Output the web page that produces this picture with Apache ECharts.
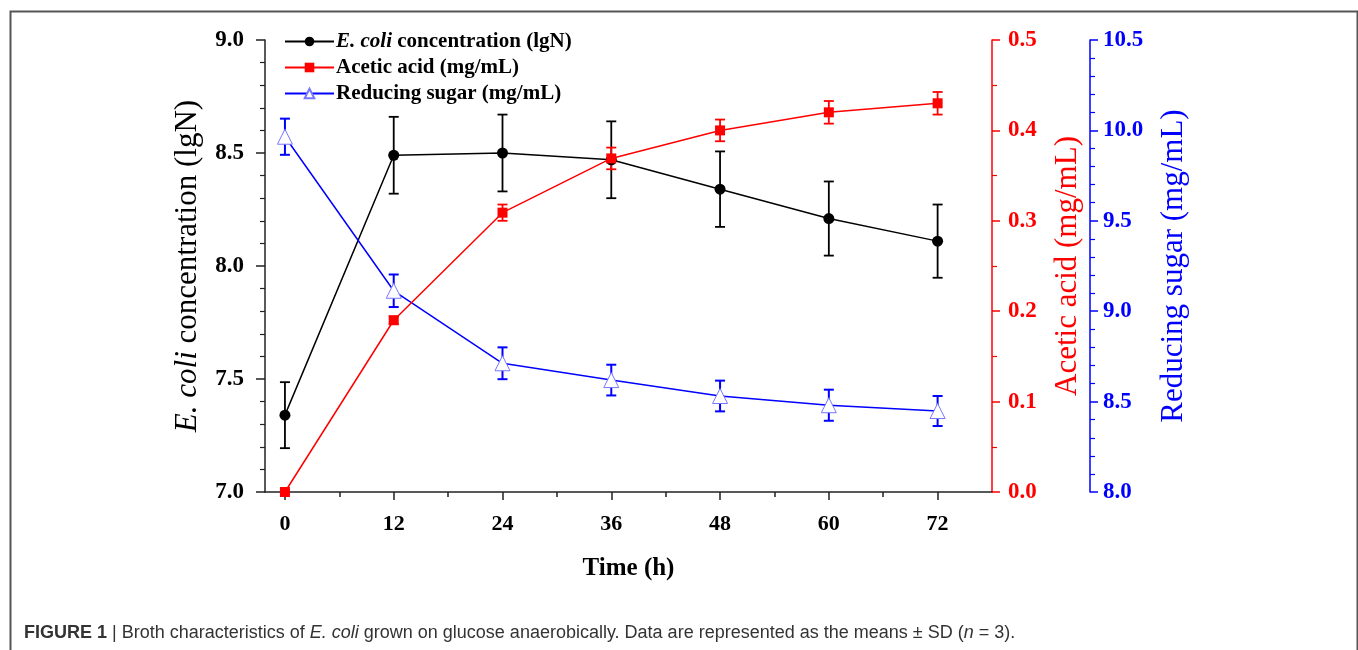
<!DOCTYPE html>
<html>
<head>
<meta charset="utf-8">
<script src="https://cdn.jsdelivr.net/npm/echarts@6/dist/echarts.min.js"></script>
<style>
  html, body { margin: 0; padding: 0; background: #fff; }
  #main { width: 1358px; height: 650px; }
</style>
</head>
<body>
<div id="main"></div>
<script>
// time points (h)
var times = [0, 12, 24, 36, 48, 60, 72];
// E. coli concentration (lgN), mean and SD
var ecoli = [7.34, 8.49, 8.50, 8.47, 8.34, 8.21, 8.11];
var ecoliSD = [0.146, 0.17, 0.17, 0.17, 0.167, 0.164, 0.162];
// acetic acid (mg/mL)
var acetic = [0.0, 0.19, 0.309, 0.369, 0.40, 0.42, 0.43];
var aceticSD = [0, 0.004, 0.009, 0.012, 0.012, 0.0125, 0.0125];
// reducing sugar (mg/mL)
var sugar = [9.965, 9.113, 8.712, 8.619, 8.531, 8.48, 8.448];
var sugarSD = [0.1, 0.09, 0.088, 0.085, 0.085, 0.086, 0.083];

var majorTicks = [0, 12, 24, 36, 48, 60, 72];
var minorTicks = [6, 18, 30, 42, 54, 66];

var serif = "'Liberation Serif', 'Times New Roman', serif";
var sans = "'Liberation Sans', Arial, sans-serif";

function pts(vals) {
    return times.map(function (t, i) { return [t, vals[i]]; });
}
function errs(vals, sd) {
    return times.map(function (t, i) { return [t, vals[i] - sd[i], vals[i] + sd[i]]; });
}
function errRender(color, lw, cap) {
    return function (params, api) {
        var x = api.value(0);
        var lo = api.coord([x, api.value(1)]);
        var hi = api.coord([x, api.value(2)]);
        var st = { stroke: color, lineWidth: lw };
        return {
            type: 'group',
            children: [
                { type: 'line', shape: { x1: lo[0], y1: lo[1], x2: hi[0], y2: hi[1] }, style: st },
                { type: 'line', shape: { x1: hi[0] - cap, y1: hi[1], x2: hi[0] + cap, y2: hi[1] }, style: st },
                { type: 'line', shape: { x1: lo[0] - cap, y1: lo[1], x2: lo[0] + cap, y2: lo[1] }, style: st }
            ]
        };
    };
}
function fmt1(v) { return v.toFixed(1); }

var chart = echarts.init(document.getElementById('main'));
var option = {
    animation: false,
    backgroundColor: '#fff',
    grid: { left: 265, right: 366, top: 40, bottom: 158 },
    legend: {
        orient: 'vertical',
        left: 279,
        top: 26,
        itemWidth: 49,
        itemHeight: 12,
        itemGap: 5,
        data: ['ecoli', 'acetic', 'sugar'],
        formatter: function (name) {
            if (name === 'ecoli') return '{i|E. coli} concentration (lgN)';
            if (name === 'acetic') return 'Acetic acid (mg/mL)';
            return 'Reducing sugar (mg/mL)';
        },
        textStyle: {
            fontFamily: serif, fontSize: 21, fontWeight: 'bold', color: '#000', padding: [0, 0, 0, -3],
            rich: { i: { fontFamily: serif, fontSize: 21, fontStyle: 'italic', color: '#000' } }
        }
    },
    xAxis: [{
        type: 'value', min: -2.2, max: 78,
        name: 'Time (h)', nameLocation: 'middle', nameGap: 64,
        nameTextStyle: { fontFamily: serif, fontSize: 25, fontWeight: 'bold', color: '#000' },
        axisLine: { onZero: false, lineStyle: { color: '#222', width: 1.5 } },
        axisTick: { customValues: majorTicks, length: 8, lineStyle: { color: '#222', width: 1.5 } },
        axisLabel: { customValues: majorTicks, margin: 21, fontFamily: serif, fontSize: 22, fontWeight: 'bold', color: '#000' },
        splitLine: { show: false }
    }, {
        type: 'value', min: -2.2, max: 78, position: 'bottom',
        axisLine: { show: false, onZero: false },
        axisTick: { customValues: minorTicks, length: 5, lineStyle: { color: '#222', width: 1.5 } },
        axisLabel: { show: false },
        splitLine: { show: false }
    }],
    yAxis: [{
        type: 'value', min: 7, max: 9, interval: 0.5, position: 'left',
        name: '{i|E. coli} concentration (lgN)', nameLocation: 'middle', nameGap: 62,
        nameTextStyle: {
            fontFamily: serif, fontSize: 31, color: '#000',
            rich: { i: { fontFamily: serif, fontSize: 31, fontStyle: 'italic', color: '#000' } }
        },
        axisLine: { show: true, onZero: false, lineStyle: { color: '#222', width: 1.5 } },
        axisTick: { length: 9, lineStyle: { color: '#222', width: 1.5 } },
        minorTick: { show: true, splitNumber: 5, length: 5, lineStyle: { color: '#222', width: 1.2 } },
        axisLabel: { formatter: fmt1, margin: 21, fontFamily: serif, fontSize: 23, fontWeight: 'bold', color: '#000' },
        splitLine: { show: false }
    }, {
        type: 'value', min: 0, max: 0.5, interval: 0.1, position: 'right',
        name: 'Acetic acid (mg/mL)', nameLocation: 'middle', nameGap: 60, nameRotate: 90,
        nameTextStyle: { fontFamily: serif, fontSize: 31, color: '#ff0000' },
        axisLine: { show: true, onZero: false, lineStyle: { color: '#ff0000', width: 1.5 } },
        axisTick: { length: 8, lineStyle: { color: '#ff0000', width: 1.5 } },
        minorTick: { show: true, splitNumber: 2, length: 5, lineStyle: { color: '#ff0000', width: 1.2 } },
        axisLabel: { formatter: fmt1, margin: 16, fontFamily: serif, fontSize: 23, fontWeight: 'bold', color: '#ff0000' },
        splitLine: { show: false }
    }, {
        type: 'value', min: 8, max: 10.5, interval: 0.5, position: 'right', offset: 98,
        name: 'Reducing sugar (mg/mL)', nameLocation: 'middle', nameGap: 68, nameRotate: 90,
        nameTextStyle: { fontFamily: serif, fontSize: 31, color: '#0000ff' },
        axisLine: { show: true, onZero: false, lineStyle: { color: '#0000ff', width: 1.5 } },
        axisTick: { length: 8, lineStyle: { color: '#0000ff', width: 1.5 } },
        minorTick: { show: true, splitNumber: 5, length: 5, lineStyle: { color: '#0000ff', width: 1.2 } },
        axisLabel: { formatter: fmt1, margin: 13, fontFamily: serif, fontSize: 23, fontWeight: 'bold', color: '#0000ff' },
        splitLine: { show: false }
    }],
    series: [
        {
            type: 'custom', yAxisIndex: 0, renderItem: errRender('#000', 1.8, 5),
            data: errs(ecoli, ecoliSD), z: 1, silent: true
        },
        {
            type: 'custom', yAxisIndex: 1, renderItem: errRender('#ff0000', 1.8, 5),
            data: errs(acetic, aceticSD), z: 1, silent: true
        },
        {
            type: 'custom', yAxisIndex: 2, renderItem: errRender('#0000ff', 2, 5),
            data: errs(sugar, sugarSD), z: 1, silent: true
        },
        {
            name: 'ecoli', type: 'line', yAxisIndex: 0, data: pts(ecoli),
            symbol: 'circle', symbolSize: 11, showAllSymbol: true,
            lineStyle: { color: '#000', width: 1.5 },
            itemStyle: { color: '#000' }, z: 3
        },
        {
            name: 'acetic', type: 'line', yAxisIndex: 1, data: pts(acetic),
            symbol: 'rect', symbolSize: 10,
            lineStyle: { color: '#ff0000', width: 1.5 },
            itemStyle: { color: '#ff0000' }, z: 4
        },
        {
            name: 'sugar', type: 'line', yAxisIndex: 2, data: pts(sugar),
            symbol: 'triangle', symbolSize: 15,
            lineStyle: { color: '#0000ff', width: 1.5 },
            itemStyle: { color: '#ffffff', borderColor: '#7777ff', borderWidth: 1 }, z: 3
        }
    ],
    graphic: [
        {
            type: 'rect', left: 8, top: 9, silent: true,
            shape: { x: 8, y: 9, width: 1347, height: 700 },
            style: { fill: 'none', stroke: '#555', lineWidth: 2 }
        },
        {
            type: 'text', left: 24, top: 624,
            style: {
                text: '{b|FIGURE 1} | Broth characteristics of {i|E. coli} grown on glucose anaerobically. Data are represented as the means \u00b1 SD ({i|n} = 3).',
                font: "18px " + sans,
                fill: '#333',
                rich: {
                    b: { fontWeight: 'bold', fontSize: 18, fontFamily: sans, fill: '#333' },
                    i: { fontStyle: 'italic', fontSize: 18, fontFamily: sans, fill: '#333' }
                }
            }
        }
    ]
};
chart.setOption(option);
</script>
</body>
</html>
